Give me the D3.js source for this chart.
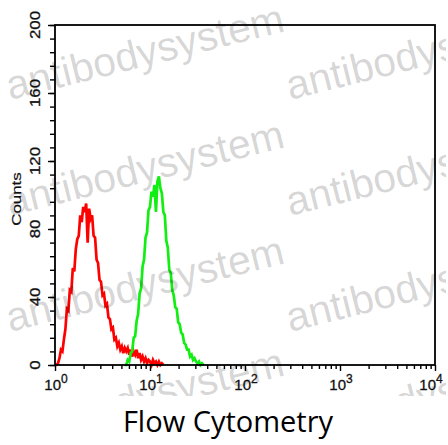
<!DOCTYPE html>
<html>
<head>
<meta charset="utf-8">
<script src="https://cdn.jsdelivr.net/npm/d3@7"></script>
<style>
  html, body { margin: 0; padding: 0; background: #fff; }
  svg { display: block; }
</style>
</head>
<body>
<svg id="chart" width="448" height="445"></svg>
<script>
// ---- Data (1024-channel log scale, 256 channels per decade) ----
const redChannels = [0,4,8,12,16,20,24,28,32,36,40,44,48,52,56,60,64,68,72,76,80,84,88,92,96,100,104,108,112,116,120,124,128,132,136,140,144,148,152,156,160,164,168,172,176,180,184,188,192,196,200,204,208,212,216,220,224,228,232,236,240,244,248,252,256,260,264,268,272,276,280,284,288,292];
const redCounts   = [0,0,1,4,9,8,15,21,33,32,44,43,57,55,68,74,76,88,84,93,90,95,72,92,86,88,76,75,62,60,50,49,41,42,35,36,28,27,21,22,15,16,11,13,9,11,7,10,8,10,6,9,5,8,6,9,4,7,3,5,2,4,1,3,2,0,3,1,2,0,2,0,1,0];

const greenChannels = [188,192,196,200,204,208,212,216,220,224,228,232,236,240,244,248,252,256,260,264,268,272,276,280,284,288,292,296,300,304,308,312,316,320,324,328,332,336,340,344,348,352,356,360,364,368,372,376,380,384,388,392,396,400];
const greenCounts   = [0,0,3,2,7,8,16,17,26,30,42,45,58,62,75,78,91,93,102,99,106,90,108,111,104,101,90,88,73,69,56,54,44,41,34,33,25,24,19,18,13,12,9,9,5,6,3,4,2,1,2,0,1,0];

const xMajorTicks = [1, 10, 100, 1000, 10000];
const xTickExponents = ["0", "1", "2", "3", "4"];
const yMajorTicks = [0, 40, 80, 120, 160, 200];
const yLabel = "Counts";
const title = "Flow Cytometry";
const watermark = "antibodysystem";

// ---- Layout ----
const L = 55, R = 435, T = 25, B = 365;
const svg = d3.select("#chart");

const x = d3.scaleLog().domain([1, 10000]).range([L, R]);
const y = d3.scaleLinear().domain([0, 200]).range([B, T]);
const chToVal = ch => Math.pow(10, ch / 256);

// ---- Histograms ----
const line = d3.line()
  .x(d => x(chToVal(d[0])))
  .y(d => y(d[1]));

svg.append("path")
  .datum(redChannels.map((c, i) => [c, redCounts[i]]))
  .attr("d", line)
  .attr("fill", "none")
  .attr("stroke", "#ff0000")
  .attr("stroke-width", 2.7)
  .attr("stroke-linejoin", "miter");

svg.append("path")
  .datum(greenChannels.map((c, i) => [c, greenCounts[i]]))
  .attr("d", line)
  .attr("fill", "none")
  .attr("stroke", "#11ee11")
  .attr("stroke-width", 2.7)
  .attr("stroke-linejoin", "miter");

// ---- Axes ----
const xMinor = [];
for (let d = 0; d < 4; d++) for (let k = 2; k <= 9; k++) xMinor.push(k * Math.pow(10, d));

const axisStyle = g => {
  g.select(".domain").remove();
  g.selectAll(".tick line").attr("stroke", "#000").attr("stroke-width", 1.4);
};

svg.append("g").attr("transform", `translate(0,${B})`)
  .call(d3.axisBottom(x).tickValues(xMinor).tickSize(4).tickFormat(""))
  .call(axisStyle);
svg.append("g").attr("transform", `translate(0,${B})`)
  .call(d3.axisBottom(x).tickValues(xMajorTicks).tickSize(6).tickFormat(""))
  .call(axisStyle);

const yMinor = d3.range(0, 201, 8);
svg.append("g").attr("transform", `translate(${L},0)`)
  .call(d3.axisLeft(y).tickValues(yMinor).tickSize(5).tickFormat(""))
  .call(axisStyle);
svg.append("g").attr("transform", `translate(${L},0)`)
  .call(d3.axisLeft(y).tickValues(yMajorTicks).tickSize(7).tickFormat(""))
  .call(axisStyle);

// frame
svg.append("rect")
  .attr("x", L).attr("y", T).attr("width", R - L).attr("height", B - T)
  .attr("fill", "none").attr("stroke", "#000").attr("stroke-width", 1.8);

// x tick labels 10^n
const font = "Liberation Sans, Arial, sans-serif";
xMajorTicks.forEach((v, i) => {
  const t = svg.append("text")
    .attr("x", i === xMajorTicks.length - 1 ? x(v) - 4 : x(v) + 1).attr("y", 390)
    .attr("text-anchor", "middle")
    .attr("font-family", font).attr("font-size", 15).attr("fill", "#111")
    .attr("stroke", "#111").attr("stroke-width", 0.3);
  t.append("tspan").text("10");
  t.append("tspan").attr("dy", -7).attr("font-size", 12).text(xTickExponents[i]);
});

// y tick labels (rotated)
yMajorTicks.forEach(v => {
  svg.append("text")
    .attr("transform", `translate(35,${y(v)}) rotate(-90) scale(1.2,1)`)
    .attr("text-anchor", "middle").attr("dy", "0.36em")
    .attr("font-family", font).attr("font-size", 14).attr("fill", "#111")
    .attr("stroke", "#111").attr("stroke-width", 0.3)
    .text(v);
});

// axis label
svg.append("text")
  .attr("transform", `translate(16,199) rotate(-90) scale(1.3,1)`)
  .attr("text-anchor", "middle").attr("dy", "0.36em")
  .attr("font-family", font).attr("font-size", 13).attr("fill", "#111")
  .attr("stroke", "#111").attr("stroke-width", 0.2)
  .text(yLabel);

// title
svg.append("text")
  .attr("x", 228).attr("y", 432)
  .attr("text-anchor", "middle")
  .attr("font-family", "Open Sans, Noto Sans, sans-serif").attr("font-size", 29)
  .attr("fill", "#000")
  .text(title);

// watermark
const wm = svg.append("g").attr("clip-path", "url(#wmclip)");
svg.append("defs").append("clipPath").attr("id", "wmclip")
  .append("rect").attr("x", 0).attr("y", 8).attr("width", 446).attr("height", 388);
const wmRows = [100, 216, 332, 444];
const wmCols = [10, 290];
wmRows.forEach(ry => wmCols.forEach(cx => {
  wm.append("text")
    .attr("transform", `translate(${cx},${ry}) rotate(-14)`)
    .attr("font-family", font).attr("font-size", 41)
    .attr("fill", "#000").attr("fill-opacity", 0.17)
    .text(watermark);
}));
</script>
</body>
</html>
